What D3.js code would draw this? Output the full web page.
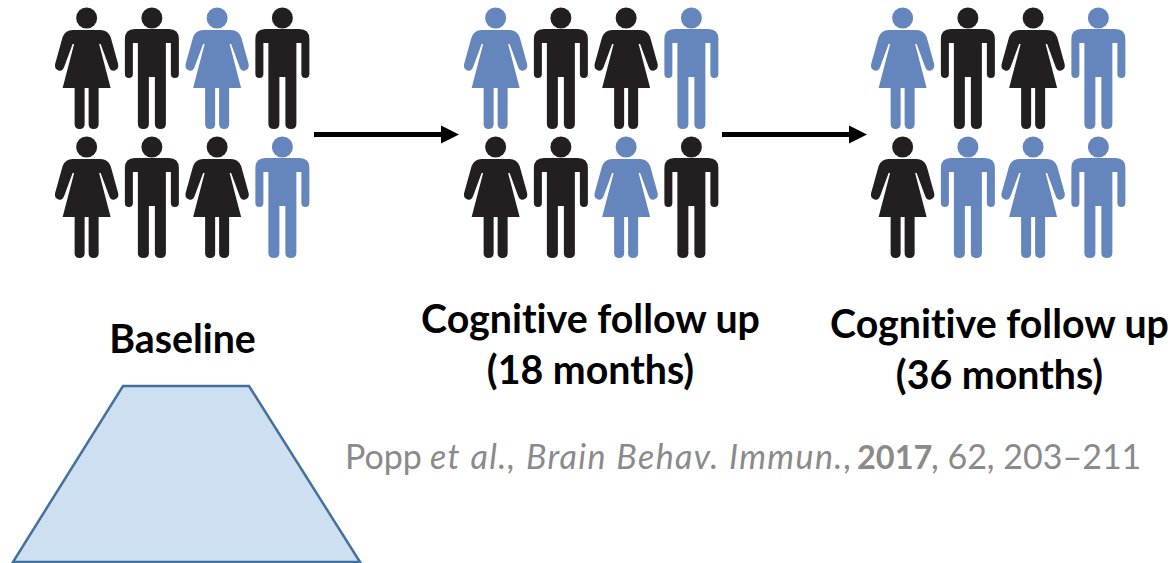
<!DOCTYPE html>
<html>
<head>
<meta charset="utf-8">
<script src="https://cdn.jsdelivr.net/npm/d3@7"></script>
<style>
html, body { margin: 0; padding: 0; background: #fff; }
svg { display: block; }
text { font-family: Lato, "Open Sans", sans-serif; font-variant-ligatures: none; }
</style>
</head>
<body>
<svg id="chart"></svg>
<script>
var WIDTH = 1173;
var HEIGHT = 563;

// f = woman, m = man, read left to right in each panel
var sexes = ['f', 'm', 'f', 'm', 'f', 'm', 'f', 'm'];
var baseline = [0, 0, 1, 0, 0, 0, 0, 1];
var followUp18 = [1, 0, 0, 1, 0, 0, 1, 0];
var followUp36 = [1, 0, 0, 1, 0, 1, 1, 1];
var panels = [baseline, followUp18, followUp36];
var panelLabels = [
    ['Baseline'],
    ['Cognitive follow up', '(18 months)'],
    ['Cognitive follow up', '(36 months)']
];

var BLACK = '#231f20';
var BLUE = '#6585bd';

var svg = d3.select('#chart').attr('width', WIDTH).attr('height', HEIGHT);

// people are laid out on one scale per panel
var panelX = [54, 463, 870];
var colScale = d3.scaleBand().domain([0, 1, 2, 3]).range([0, 261]);
var rowScale = d3.scaleBand().domain([0, 1]).range([0, 258]);

var womanBody = 'M-14,30 L14,30 Q21,30 24,37 L31.5,64 Q32.5,69 28,70.5 Q24,71.5 22.5,67 L14,44 L12.5,44 L24,88 L12,88 L12,124 Q12,129 7,129 Q2,129 2,124 L2,88 L-2,88 L-2,124 Q-2,129 -7,129 Q-12,129 -12,124 L-12,88 L-24,88 L-12.5,44 L-14,44 L-22.5,67 Q-24,71.5 -28,70.5 Q-32.5,69 -31.5,64 L-24,37 Q-21,30 -14,30 Z';
var manBody = 'M-17,29 L17,29 Q27,29 27,39 L27,74 Q27,78 23,78 Q19,78 19,74 L19,43 L14,43 L14,124 Q14,129 8.5,129 Q3,129 3,124 L3,77 L-3,77 L-3,124 Q-3,129 -8.5,129 Q-14,129 -14,124 L-14,43 L-19,43 L-19,74 Q-19,78 -23,78 Q-27,78 -27,74 L-27,39 Q-27,29 -17,29 Z';

var people = [];
panels.forEach(function(panel, p){
    panel.forEach(function(status, i){
        people.push({
            panel: p,
            col: i % 4,
            row: Math.floor(i / 4),
            sex: sexes[i],
            status: status
        });
    });
});

var person = svg.append('g').attr('id', 'people').selectAll('g').data(people).enter()
    .append('g')
    .attr('transform', function(d){
        var x = panelX[d.panel] + colScale(d.col) + colScale.bandwidth() / 2;
        return 'translate(' + x + ',' + rowScale(d.row) + ')';
    })
    .attr('fill', function(d){ return d.status ? BLUE : BLACK; });

person.append('circle').attr('cx', 0).attr('cy', 18).attr('r', 10.5);
person.append('path').attr('d', function(d){ return d.sex == 'f' ? womanBody : manBody; });

// arrows between panels
var defs = svg.append('defs');
defs.append('marker')
    .attr('id', 'arrowhead')
    .attr('markerUnits', 'userSpaceOnUse')
    .attr('markerWidth', 20).attr('markerHeight', 20)
    .attr('refX', 9).attr('refY', 9.5)
    .attr('orient', 'auto')
    .append('path').attr('d', 'M0,0.5 L18,9.5 L0,18.5 Z').attr('fill', '#000');

svg.append('g').selectAll('line').data([[314, 450], [722, 858]]).enter()
    .append('line')
    .attr('x1', function(d){ return d[0]; })
    .attr('x2', function(d){ return d[1]; })
    .attr('y1', 134.5).attr('y2', 134.5)
    .attr('stroke', '#000').attr('stroke-width', 5)
    .attr('marker-end', 'url(#arrowhead)');

// labels
var labelPos = [{x: 182.5, y: 353}, {x: 590.5, y: 333}, {x: 999.5, y: 338}];
svg.append('g').selectAll('text').data(panelLabels).enter()
    .append('text')
    .attr('text-anchor', 'middle')
    .attr('font-weight', 700)
    .attr('font-size', 39.3)
    .attr('fill', '#000')
    .each(function(lines, i){
        d3.select(this).selectAll('tspan').data(lines).enter()
            .append('tspan')
            .attr('x', labelPos[i].x)
            .attr('y', function(d, j){ return labelPos[i].y + j * 51; })
            .text(function(d){ return d; });
    });

// trapezoid
svg.append('path')
    .attr('d', d3.line()([[123, 386], [249, 386], [360, 562], [13, 562]]) + 'Z')
    .attr('fill', '#cddff0')
    .attr('stroke', '#41719c')
    .attr('stroke-width', 2.5);

// citation, each run placed so it lines up with the original spacing
var citationRuns = ['Popp', 'et al., Brain Behav. Immun.', ',', '2017', ', 62, 203–211'];
var citationStart = [345, 430, 843, 857, 931];
var citation = svg.append('text')
    .attr('y', 469)
    .attr('font-size', 34)
    .attr('fill', '#8a8a8a');
citation.selectAll('tspan').data(citationRuns).enter()
    .append('tspan')
    .attr('x', function(d, i){ return citationStart[i]; })
    .attr('font-style', function(d, i){ return i == 1 ? 'italic' : 'normal'; })
    .attr('font-weight', function(d, i){ return i == 3 ? 700 : 400; })
    .attr('font-size', function(d, i){ return i == 3 ? 32.5 : 34; })
    .attr('letter-spacing', function(d, i){ return i == 1 ? 1.4 : 0; })
    .text(function(d){ return d; });
</script>
</body>
</html>
